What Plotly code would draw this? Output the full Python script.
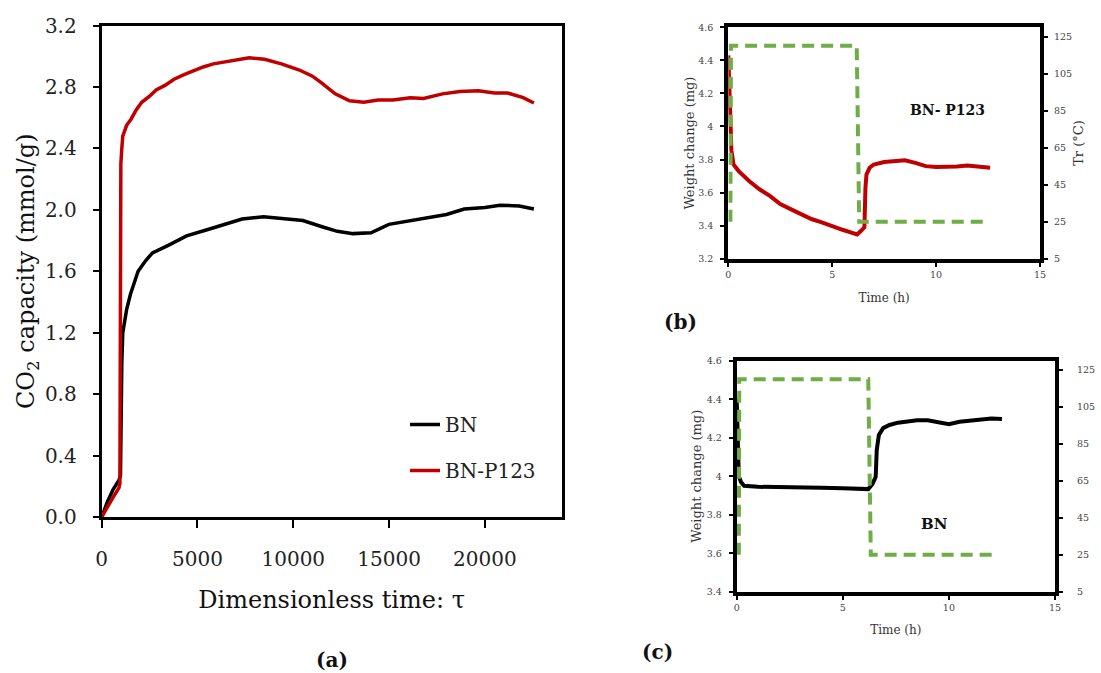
import plotly.graph_objects as go

# ---------------- Panel (a) data ----------------
tau_bn = [0, 300, 600, 900, 980, 1000, 1050, 1100, 1300, 1500, 1900, 2300, 2650, 3500, 4430,
          5500, 6580, 7330, 8450, 9500, 10500, 11500, 12300, 13120, 14060, 14990, 16000,
          17050, 18000, 18920, 20000, 20790, 21800, 22560]
cap_bn = [0, 0.10, 0.18, 0.24, 0.27, 0.60, 1.00, 1.20, 1.35, 1.45, 1.60, 1.67, 1.72, 1.77, 1.83,
          1.87, 1.91, 1.94, 1.955, 1.945, 1.93, 1.89, 1.86, 1.845, 1.85, 1.905, 1.925,
          1.95, 1.97, 2.005, 2.015, 2.03, 2.025, 2.005]

tau_p123 = [0, 300, 600, 900, 950, 980, 1000, 1050, 1100, 1300, 1530, 1800, 2090, 2500, 2840,
            3300, 3775, 4300, 4800, 5300, 5830, 6600, 7330, 7700, 8500, 9380, 10320, 11000,
            11440, 12190, 12935, 13680, 14430, 15200, 16110, 16800, 17790, 18700, 19660,
            20500, 21200, 22000, 22560]
cap_p123 = [0, 0.07, 0.13, 0.19, 0.22, 1.50, 2.30, 2.40, 2.48, 2.55, 2.59, 2.65, 2.70, 2.74, 2.78,
            2.81, 2.85, 2.88, 2.905, 2.93, 2.95, 2.965, 2.98, 2.99, 2.98, 2.95, 2.91, 2.87,
            2.83, 2.755, 2.71, 2.70, 2.715, 2.715, 2.73, 2.725, 2.755, 2.77, 2.775,
            2.76, 2.76, 2.73, 2.695]

# ---------------- Panel (b) data (BN-P123) ----------------
t_b = [0, 0.1, 0.15, 0.25, 0.5, 1, 1.5, 2, 2.5, 3, 3.5, 4, 4.5, 5, 5.5, 6, 6.2, 6.4, 6.55,
       6.6, 6.65, 6.8, 7, 7.5, 8, 8.5, 9, 9.5, 10, 10.5, 11, 11.5, 12, 12.6]
w_b = [4.43, 4.10, 3.855, 3.77, 3.73, 3.67, 3.62, 3.58, 3.53, 3.50, 3.47, 3.44, 3.42, 3.395,
       3.375, 3.355, 3.347, 3.37, 3.39, 3.63, 3.71, 3.75, 3.77, 3.785, 3.79, 3.795, 3.78,
       3.76, 3.755, 3.755, 3.758, 3.764, 3.758, 3.75]
tT_b = [0.1, 0.13, 6.18, 6.30, 12.58]
T_b = [25, 120, 120, 25, 25]

# ---------------- Panel (c) data (BN) ----------------
t_c = [0, 0.05, 0.1, 0.2, 0.35, 1, 2, 3, 4, 5, 6, 6.2, 6.4, 6.55, 6.6, 6.7, 6.9, 7.2, 7.6,
       8, 8.5, 9, 9.5, 10, 10.5, 11, 11.5, 12, 12.5]
w_c = [4.40, 4.20, 4.00, 3.97, 3.95, 3.945, 3.945, 3.944, 3.94, 3.938, 3.935, 3.933, 3.96,
       3.997, 4.136, 4.214, 4.25, 4.266, 4.278, 4.285, 4.29, 4.29, 4.28, 4.27, 4.283, 4.288,
       4.295, 4.30, 4.297]
tT_c = [0.1, 0.12, 6.2, 6.32, 12.34]
T_c = [25, 120, 120, 25, 25]

W, H = 1101, 673
def px(x0, x1):
    return [x0 / W, x1 / W]
def py(top, bottom):
    return [1 - bottom / H, 1 - top / H]

FONT = "DejaVu Serif"
RED = "#C00000"
GREEN = "#70AD47"

fig = go.Figure()

# (a)
fig.add_trace(go.Scatter(x=tau_bn, y=cap_bn, mode="lines", name="BN",
                         line=dict(color="#000000", width=3.5), xaxis="x", yaxis="y",
                         legendgroup="g1"))
fig.add_trace(go.Scatter(x=tau_p123, y=cap_p123, mode="lines", name="BN-P123",
                         line=dict(color=RED, width=3.5), xaxis="x", yaxis="y",
                         legendgroup="g2"))
# (b)
fig.add_trace(go.Scatter(x=t_b, y=w_b, mode="lines", showlegend=False,
                         line=dict(color=RED, width=4), xaxis="x2", yaxis="y2"))
fig.add_trace(go.Scatter(x=tT_b, y=T_b, mode="lines", showlegend=False,
                         line=dict(color=GREEN, width=4, dash="12px,7px"),
                         xaxis="x2", yaxis="y3"))
# (c)
fig.add_trace(go.Scatter(x=t_c, y=w_c, mode="lines", showlegend=False,
                         line=dict(color="#000000", width=4), xaxis="x3", yaxis="y4"))
fig.add_trace(go.Scatter(x=tT_c, y=T_c, mode="lines", showlegend=False,
                         line=dict(color=GREEN, width=4, dash="12px,7px"),
                         xaxis="x3", yaxis="y5"))

ax_a = dict(showgrid=False, zeroline=False, showline=True, linecolor="black", mirror=True,
            ticks="outside", tickcolor="black", tickwidth=2, automargin=False,
            tickfont=dict(family=FONT, size=20, color="#222"))
small = dict(showgrid=False, zeroline=False, showline=True, linecolor="black", linewidth=4,
             ticks="outside", tickcolor="black", tickwidth=1.5, ticklen=4, automargin=False,
             tickfont=dict(family=FONT, size=9.5, color="#444"))

fig.update_layout(
    width=W, height=H, autosize=False,
    margin=dict(l=0, r=0, t=0, b=0),
    paper_bgcolor="white", plot_bgcolor="white",
    font=dict(family=FONT, color="#222"),
    xaxis=dict(**ax_a, domain=px(101.7, 561.5), anchor="y", range=[0, 24000],
               tickvals=[0, 5000, 10000, 15000, 20000], tickformat="d", ticklen=8, linewidth=3,
               ticklabelstandoff=14,
               title=dict(text="Dimensionless time: \u03c4", font=dict(family=FONT, size=24, color="#111"),
                          standoff=22)),
    yaxis=dict(**ax_a, domain=py(25.5, 517), anchor="x", range=[0, 3.2], dtick=0.4,
               tickformat=".1f", ticklen=6, linewidth=3, ticklabelstandoff=12,
               title=dict(text="CO<sub>2</sub> capacity (mmol/g)",
                          font=dict(family=FONT, size=24, color="#111"), standoff=4)),
    xaxis2=dict(**small, domain=px(728.3, 1040), anchor="y2", range=[0, 15], dtick=5,
                mirror=True, ticklabelstandoff=0,
                title=dict(text="Time (h)", font=dict(family=FONT, size=12, color="#333"), standoff=16)),
    yaxis2=dict(**small, domain=py(27.3, 258.7), anchor="x2", range=[3.2, 4.6], dtick=0.2,
                tickformat="~g", ticklabelstandoff=5,
                title=dict(text="Weight change (mg)", font=dict(family=FONT, size=13, color="#333"), standoff=2)),
    yaxis3=dict(**small, overlaying="y2", side="right", anchor="x2", range=[5, 130],
                tick0=5, dtick=20, ticklabelstandoff=4,
                title=dict(text="Tr (\u00b0C)", font=dict(family=FONT, size=13, color="#333"), standoff=4)),
    xaxis3=dict(**small, domain=px(736.7, 1055), anchor="y4", range=[0, 15], dtick=5,
                mirror=True, ticklabelstandoff=0,
                title=dict(text="Time (h)", font=dict(family=FONT, size=12, color="#333"), standoff=15)),
    yaxis4=dict(**small, domain=py(360.7, 591.7), anchor="x3", range=[3.4, 4.6], dtick=0.2,
                tickformat="~g", ticklabelstandoff=5,
                title=dict(text="Weight change (mg)", font=dict(family=FONT, size=13, color="#333"), standoff=3)),
    yaxis5=dict(**small, overlaying="y4", side="right", anchor="x3", range=[5, 130],
                tick0=5, dtick=20, ticklabelstandoff=12),
    legend=dict(x=405 / W, y=1 - 405 / H, xanchor="left", yanchor="top",
                font=dict(family=FONT, size=20, color="#222"), tracegroupgap=17,
                bgcolor="rgba(0,0,0,0)"),
    annotations=[
        dict(text="<b>(a)</b>", x=332 / W, y=1 - 660 / H, xref="paper", yref="paper",
             xanchor="center", yanchor="middle",
             showarrow=False, font=dict(family=FONT, size=20, color="#111")),
        dict(text="<b>(b)</b>", x=680 / W, y=1 - 322 / H, xref="paper", yref="paper",
             xanchor="center", yanchor="middle",
             showarrow=False, font=dict(family=FONT, size=20, color="#111")),
        dict(text="<b>(c)</b>", x=657 / W, y=1 - 652 / H, xref="paper", yref="paper",
             xanchor="center", yanchor="middle",
             showarrow=False, font=dict(family=FONT, size=20, color="#111")),
        dict(text="<b>BN- P123</b>", x=10.57, y=4.10, xref="x2", yref="y2",
             showarrow=False, font=dict(family=FONT, size=14, color="#111")),
        dict(text="<b>BN</b>", x=9.3, y=3.75, xref="x3", yref="y4",
             showarrow=False, font=dict(family=FONT, size=15, color="#111")),
    ],
)

fig.write_html("out.html")
